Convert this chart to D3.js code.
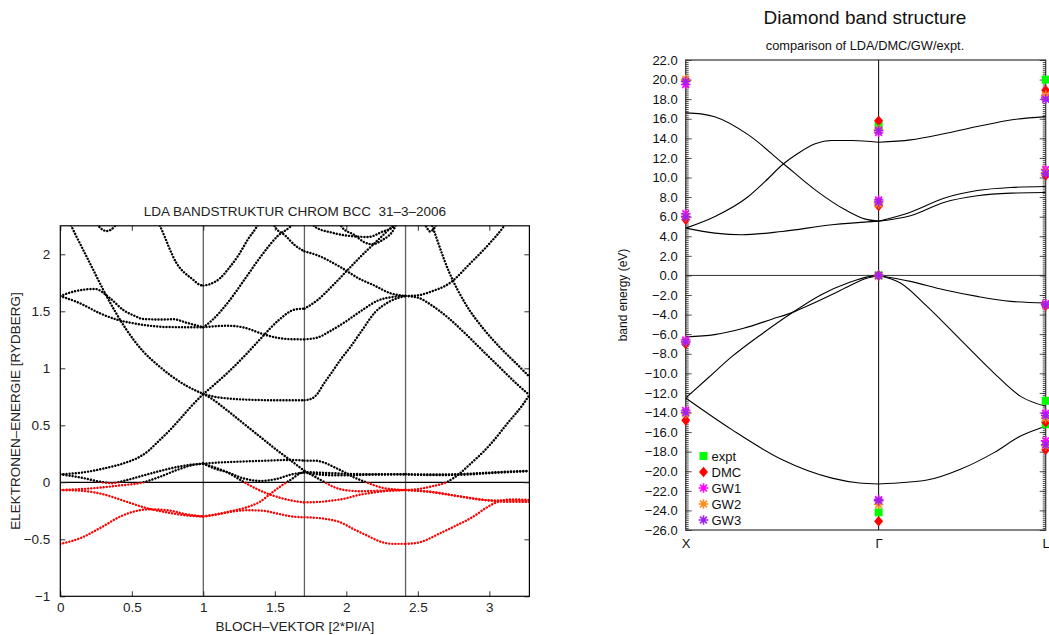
<!DOCTYPE html>
<html><head><meta charset="utf-8">
<script src="https://cdn.jsdelivr.net/npm/d3@7"></script>
<style>
body{margin:0;background:#fff;}
svg{display:block;font-family:"Liberation Sans",Arial,Helvetica,sans-serif;}
</style></head><body>
<svg id="c" width="1049" height="635"></svg>
<script>
// ---------------- LEFT PANEL DATA (Cr bcc, k in 2*PI/A, E in Ry) ----------------
const crSymK = [1, 1.7071, 2.4142];
const crKmax = 3.2802;
const crXTicks = [0, 0.5, 1, 1.5, 2, 2.5, 3];
const crYTicks = [-1, -0.5, 0, 0.5, 1, 1.5, 2];
// segment Gamma-H
const crGH = [
  [[0,-0.54],[0.14,-0.49],[0.28,-0.40],[0.42,-0.30],[0.52,-0.255],[0.62,-0.237],[0.75,-0.245],[0.88,-0.28],[1,-0.30]],
  [[0,-0.068],[0.15,-0.075],[0.3,-0.105],[0.45,-0.165],[0.6,-0.225],[0.75,-0.265],[0.9,-0.293],[1,-0.30]],
  [[0,-0.068],[0.2,-0.055],[0.4,-0.03],[0.58,0.0],[0.7,0.05],[0.82,0.11],[0.92,0.15],[1,0.164]],
  [[0,0.07],[0.15,0.04],[0.3,0.0],[0.36,-0.008],[0.45,0.015],[0.58,0.06],[0.7,0.1],[0.82,0.135],[0.92,0.155],[1,0.164]],
  [[0,0.07],[0.15,0.085],[0.3,0.12],[0.45,0.17],[0.557,0.225],[0.62,0.28],[0.674,0.345],[0.767,0.459],[0.837,0.555],[0.907,0.655],[1,0.775]],
  [[0,2.45],[0.08,2.24],[0.231,1.862],[0.301,1.687],[0.464,1.336],[0.581,1.146],[0.68,1.03],[0.78,0.93],[0.884,0.845],[1,0.775]],
  [[0,1.634],[0.1,1.675],[0.243,1.696],[0.348,1.614],[0.441,1.511],[0.52,1.46],[0.581,1.432],[0.7,1.428],[0.79,1.43],[0.883,1.40],[1,1.36]],
  [[0,1.634],[0.138,1.57],[0.278,1.482],[0.4,1.425],[0.511,1.395],[0.65,1.37],[0.744,1.362],[1,1.36]],
  [[0.66,2.35],[0.697,2.25],[0.814,1.92],[0.931,1.775],[0.97,1.735],[1,1.725]],
  [[0.22,2.36],[0.267,2.25],[0.324,2.204],[0.383,2.25],[0.43,2.36]]
];
// segment H-N
const crHN = [
  [[1,0.164],[1.15,0.176],[1.3,0.183],[1.45,0.19],[1.6,0.196],[1.7071,0.19]],
  [[1,0.164],[1.08,0.12],[1.164,0.09],[1.28,0.035],[1.397,0.012],[1.514,0.03],[1.62,0.07],[1.7071,0.085]],
  [[1,0.164],[1.08,0.13],[1.164,0.09],[1.28,0.005],[1.36,-0.05],[1.444,-0.097],[1.55,-0.14],[1.677,-0.172],[1.7071,-0.176]],
  [[1,-0.30],[1.1,-0.28],[1.187,-0.255],[1.3,-0.22],[1.397,-0.17],[1.47,-0.1],[1.537,-0.038],[1.62,0.03],[1.677,0.079],[1.7071,0.09]],
  [[1,-0.30],[1.1,-0.28],[1.2,-0.257],[1.32,-0.245],[1.42,-0.25],[1.52,-0.275],[1.62,-0.30],[1.7071,-0.307]],
  [[1,0.775],[1.05,0.74],[1.164,0.634],[1.28,0.517],[1.397,0.4],[1.514,0.283],[1.607,0.196],[1.7071,0.10]],
  [[1,0.775],[1.08,0.75],[1.175,0.735],[1.3,0.725],[1.5,0.72],[1.7071,0.72]],
  [[1,0.775],[1.08,0.86],[1.175,0.967],[1.292,1.113],[1.408,1.27],[1.525,1.42],[1.642,1.516],[1.7071,1.523]],
  [[1,1.36],[1.175,1.373],[1.292,1.355],[1.408,1.304],[1.525,1.266],[1.62,1.255],[1.7071,1.254]],
  [[1,1.36],[1.06,1.42],[1.175,1.582],[1.292,1.786],[1.408,1.991],[1.525,2.166],[1.606,2.24],[1.65,2.3]],
  [[1,1.725],[1.05,1.74],[1.117,1.79],[1.18,1.88],[1.245,1.99],[1.315,2.137],[1.373,2.24],[1.4,2.3]],
  [[1.48,2.3],[1.502,2.24],[1.572,2.166],[1.642,2.078],[1.7071,2.026]]
];
// segment N-Gamma
const crNG = [
  [[1.7071,0.19],[1.78,0.19],[1.84,0.175],[1.92,0.13],[1.98,0.093],[2.06,0.04],[2.14,0.0],[2.26,-0.05],[2.4142,-0.068]],
  [[1.7071,-0.176],[1.8,-0.173],[1.9,-0.16],[2.0,-0.14],[2.073,-0.115],[2.2,-0.088],[2.3,-0.074],[2.4142,-0.068]],
  [[1.7071,-0.307],[1.85,-0.32],[1.956,-0.35],[2.05,-0.41],[2.15,-0.47],[2.25,-0.525],[2.33,-0.54],[2.4142,-0.54]],
  [[1.7071,0.09],[1.8,0.085],[1.9,0.08],[2.0,0.075],[2.2,0.07],[2.4142,0.07]],
  [[1.7071,0.085],[1.8,0.07],[1.9,0.062],[2.0,0.062],[2.2,0.068],[2.4142,0.07]],
  [[1.7071,0.10],[1.78,0.05],[1.85,0.0],[1.92,-0.045],[2.0,-0.07],[2.1,-0.078],[2.25,-0.073],[2.4142,-0.068]],
  [[1.7071,0.72],[1.76,0.735],[1.8,0.78],[1.84,0.86],[1.91,0.985],[1.956,1.07],[2.03,1.19],[2.108,1.33],[2.2,1.49],[2.294,1.58],[2.4142,1.634]],
  [[1.7071,1.254],[1.8,1.27],[1.875,1.318],[1.991,1.406],[2.108,1.508],[2.224,1.596],[2.341,1.628],[2.4142,1.634]],
  [[1.7071,1.523],[1.8,1.6],[1.9,1.72],[2.0,1.85],[2.1,1.98],[2.2,2.1],[2.3,2.22],[2.35,2.28]],
  [[1.7071,2.026],[1.8,1.99],[1.956,1.89],[2.1,1.78],[2.19,1.73],[2.305,1.66],[2.4142,1.634]],
  [[1.75,2.3],[1.782,2.24],[1.9,2.19],[1.991,2.166],[2.154,2.152],[2.248,2.196],[2.341,2.254],[2.37,2.3]],
  [[1.95,2.3],[1.968,2.24],[2.061,2.166],[2.12,2.11],[2.178,2.088],[2.248,2.122],[2.341,2.24],[2.36,2.3]]
];
// segment Gamma-P
const crGP = [
  [[2.4142,0.07],[2.6,0.068],[2.8,0.072],[3.0,0.085],[3.15,0.095],[3.2802,0.1]],
  [[2.4142,0.07],[2.6,0.064],[2.8,0.066],[3.0,0.08],[3.2802,0.098]],
  [[2.4142,-0.068],[2.55,-0.08],[2.7,-0.105],[2.85,-0.135],[3.0,-0.16],[3.1,-0.17],[3.2802,-0.172]],
  [[2.4142,-0.068],[2.6,-0.085],[2.8,-0.125],[3.0,-0.158],[3.15,-0.16],[3.2802,-0.165]],
  [[2.4142,-0.54],[2.5,-0.53],[2.656,-0.447],[2.75,-0.39],[2.889,-0.30],[2.97,-0.23],[3.052,-0.175],[3.15,-0.15],[3.2802,-0.155]],
  [[2.4142,-0.068],[2.5,-0.06],[2.6,-0.035],[2.7,0.0],[2.8,0.085],[2.866,0.16],[2.96,0.27],[3.005,0.33],[3.122,0.51],[3.239,0.69],[3.2802,0.766]],
  [[2.4142,1.634],[2.5,1.62],[2.6,1.55],[2.715,1.44],[2.836,1.30],[2.957,1.15],[3.077,1.003],[3.198,0.856],[3.2802,0.766]],
  [[2.57,2.35],[2.6,2.25],[2.715,1.855],[2.836,1.56],[2.957,1.35],[3.077,1.18],[3.198,1.03],[3.2802,0.926]],
  [[2.4142,1.634],[2.5,1.64],[2.586,1.67],[2.726,1.75],[2.866,1.92],[3.005,2.1],[3.098,2.24],[3.13,2.3]],
  [[2.53,2.32],[2.56,2.24],[2.586,2.2],[2.62,2.24],[2.65,2.32]]
];

// ---------------- RIGHT PANEL DATA (diamond, eV) ----------------
const dmPoints = ["X", "\u0393", "L"];
const dmPointK = [0, 1, 1.866];
const dmYTicks = d3.range(-26, 22.001, 2);
// X -> Gamma (k from 0 to 1)
const dmXG = [
  [[0,16.6],[0.08,16.5],[0.15,16.2],[0.325,14.35],[0.507,11.4],[0.671,8.74],[0.827,6.7],[0.931,5.75],[1,5.54]],
  [[0,4.83],[0.152,6.02],[0.325,8.06],[0.412,9.6],[0.507,11.4],[0.585,12.5],[0.671,13.44],[0.758,13.78],[0.862,13.78],[1,13.6]],
  [[0,4.83],[0.152,4.32],[0.29,4.15],[0.5,4.49],[0.758,5.17],[1,5.54]],
  [[0,-6.29],[0.15,-6.05],[0.3,-5.4],[0.45,-4.45],[0.55,-3.8],[0.65,-2.95],[0.758,-1.95],[0.85,-1.05],[0.93,-0.35],[1,0]],
  [[0,-12.52],[0.12,-10.4],[0.239,-8.3],[0.4,-5.9],[0.55,-3.84],[0.7,-2.0],[0.85,-0.7],[0.95,-0.12],[1,0]],
  [[0,-12.52],[0.239,-15.75],[0.498,-18.8],[0.758,-20.7],[0.9,-21.2],[1,-21.3]]
];
// Gamma -> L (k from 1 to 1.866)
const dmGL = [
  [[1,13.6],[1.165,13.84],[1.338,14.46],[1.511,15.2],[1.684,15.88],[1.866,16.22]],
  [[1,5.54],[1.165,6.46],[1.338,7.89],[1.511,8.67],[1.684,8.98],[1.866,9.08]],
  [[1,5.54],[1.165,6.09],[1.338,7.45],[1.511,8.13],[1.684,8.4],[1.866,8.47]],
  [[1,0],[1.165,-0.61],[1.338,-1.46],[1.511,-2.14],[1.684,-2.65],[1.866,-2.82]],
  [[1,0],[1.113,-0.78],[1.251,-3.16],[1.424,-6.56],[1.598,-9.97],[1.736,-12.35],[1.866,-13.37]],
  [[1,-21.3],[1.251,-20.9],[1.424,-19.8],[1.598,-18.1],[1.736,-16.4],[1.866,-15.4]]
];
// comparison points: [symmetry point, energy]
const dmExpt = [["\u0393",15.3],["\u0393",0],["\u0393",-24.2],["L",20.0],["L",-12.8],["L",-15.2]];
const dmDMC  = [["X",19.9],["X",5.7],["X",-7.0],["X",-14.8],["\u0393",15.8],["\u0393",7.1],["\u0393",0],["\u0393",-25.1],["L",18.9],["L",10.2],["L",-3.1],["L",-15.0],["L",-17.8]];
const dmGW1  = [["X",19.5],["X",6.3],["X",-6.6],["X",-13.8],["\u0393",14.6],["\u0393",7.7],["\u0393",0],["\u0393",-22.9],["L",18.2],["L",10.8],["L",-2.9],["L",-14.1],["L",-16.9]];
const dmGW2  = [["X",20.0],["X",6.0],["X",-6.8],["X",-14.1],["\u0393",14.9],["\u0393",7.3],["\u0393",0],["\u0393",-23.4],["L",18.4],["L",10.5],["L",-3.0],["L",-14.6],["L",-17.4]];
const dmGW3  = [["X",19.8],["X",6.0],["X",-6.8],["X",-14.0],["\u0393",14.8],["\u0393",7.5],["\u0393",0],["\u0393",-23.0],["L",18.0],["L",10.4],["L",-3.0],["L",-14.3],["L",-17.3]];
const dmSeriesNames = ["expt","DMC","GW1","GW2","GW3"];
const dmSeriesColors = ["#00ff00","#ff0000","#ff00ff","#ff8c1a","#a020f0"];

// ======================= DRAW =======================
const svg = d3.select("#c");
const defs = svg.append("defs");
const FS = 13.5;

// ---------- left panel ----------
const LB = {x0:60.3, x1:529.4, y0:596.3, y1:225.8};
const xL = d3.scaleLinear().domain([0, crKmax]).range([LB.x0, LB.x1]);
const yL = d3.scaleLinear().domain([-1, 2.25]).range([LB.y0, LB.y1]);
const gL = svg.append("g");

defs.append("clipPath").attr("id","cAbove").append("rect")
  .attr("x",LB.x0).attr("y",LB.y1).attr("width",LB.x1-LB.x0).attr("height",yL(0)-LB.y1);
defs.append("clipPath").attr("id","cBelow").append("rect")
  .attr("x",LB.x0).attr("y",yL(0)).attr("width",LB.x1-LB.x0).attr("height",LB.y0-yL(0));

gL.selectAll("line.sym").data(crSymK).join("line").attr("class","sym")
  .attr("x1",d=>xL(d)).attr("x2",d=>xL(d)).attr("y1",LB.y1).attr("y2",LB.y0)
  .attr("stroke","#606060").attr("stroke-width",1.3);
gL.append("line").attr("x1",LB.x0).attr("x2",LB.x1).attr("y1",yL(0)).attr("y2",yL(0))
  .attr("stroke","#000").attr("stroke-width",1.2);

const lineL = d3.line().x(d=>xL(d[0])).y(d=>yL(d[1])).curve(d3.curveMonotoneX);
const crAll = [...crGH, ...crHN, ...crNG, ...crGP];
[["cAbove","#000"],["cBelow","#ff0000"]].forEach(([cid,col])=>{
  gL.append("g").attr("clip-path",`url(#${cid})`)
    .selectAll("path").data(crAll).join("path")
    .attr("d",lineL).attr("fill","none").attr("stroke",col)
    .attr("stroke-width",2.4).attr("stroke-linecap","round")
    .attr("stroke-dasharray","0.1 3");
});

const fmtL = d=> (d<0?"\u2212":"")+Math.abs(d);
const axL = gL.append("g").attr("transform",`translate(${LB.x0},0)`)
  .call(d3.axisLeft(yL).tickValues(crYTicks).tickSize(-5).tickPadding(10).tickFormat(fmtL));
const axR = gL.append("g").attr("transform",`translate(${LB.x1},0)`)
  .call(d3.axisRight(yL).tickValues(crYTicks).tickSize(-5).tickFormat(""));
const axB = gL.append("g").attr("transform",`translate(0,${LB.y0})`)
  .call(d3.axisBottom(xL).tickValues(crXTicks).tickSize(-5).tickPadding(6).tickFormat(d=>String(d)));
const axT = gL.append("g").attr("transform",`translate(0,${LB.y1})`)
  .call(d3.axisTop(xL).tickValues(crXTicks).tickSize(-5).tickFormat(""));
[axL,axR,axB,axT].forEach(a=>{
  a.select(".domain").remove();
  a.selectAll("text").attr("font-size",FS).attr("fill","#222").attr("font-family","Liberation Sans, Arial, sans-serif");
  a.selectAll("line").attr("stroke","#333");
});
gL.append("rect").attr("x",LB.x0).attr("y",LB.y1).attr("width",LB.x1-LB.x0).attr("height",LB.y0-LB.y1)
  .attr("fill","none").attr("stroke","#000").attr("stroke-width",1.2);

gL.append("text").attr("x",(LB.x0+LB.x1)/2).attr("y",216).attr("text-anchor","middle")
  .attr("font-size",13.5).attr("fill","#222").style("white-space","pre")
  .text("LDA BANDSTRUKTUR CHROM BCC  31\u20133\u20132006");
gL.append("text").attr("x",(LB.x0+LB.x1)/2).attr("y",630.5).attr("text-anchor","middle")
  .attr("font-size",FS).attr("fill","#222").text("BLOCH\u2013VEKTOR [2*PI/A]");
gL.append("text").attr("transform",`translate(20,${(LB.y0+LB.y1)/2}) rotate(-90)`)
  .attr("text-anchor","middle").attr("font-size",FS).attr("fill","#222")
  .text("ELEKTRONEN\u2013ENERGIE [RYDBERG]");

// ---------- right panel ----------
const RB = {x0:685.7, x1:1045.7, y0:530, y1:60};
const xR = d3.scaleLinear().domain([0, 1.866]).range([RB.x0, RB.x1]);
const yR = d3.scaleLinear().domain([-26, 22]).range([RB.y0, RB.y1]);
const kOf = p => dmPointK[dmPoints.indexOf(p)];
const gR = svg.append("g");

gR.append("line").attr("x1",xR(1)).attr("x2",xR(1)).attr("y1",RB.y1).attr("y2",RB.y0)
  .attr("stroke","#000").attr("stroke-width",1);
gR.append("line").attr("x1",RB.x0).attr("x2",RB.x1).attr("y1",yR(0)).attr("y2",yR(0))
  .attr("stroke","#333").attr("stroke-width",1);

const lineR = d3.line().x(d=>xR(d[0])).y(d=>yR(d[1])).curve(d3.curveMonotoneX);
gR.append("g").selectAll("path").data([...dmXG, ...dmGL]).join("path")
  .attr("d",lineR).attr("fill","none").attr("stroke","#000").attr("stroke-width",1.1);

const minor = d3.range(-26, 22.001, 0.2);
const rL = gR.append("g").attr("transform",`translate(${RB.x0},0)`)
  .call(d3.axisLeft(yR).tickValues(dmYTicks).tickSize(-6).tickPadding(8)
  .tickFormat(d=>(d<0?"\u2212":"")+Math.abs(d).toFixed(1)));
const rLm = gR.append("g").attr("transform",`translate(${RB.x0},0)`)
  .call(d3.axisLeft(yR).tickValues(minor).tickSize(-3).tickFormat(""));
const rR = gR.append("g").attr("transform",`translate(${RB.x1},0)`)
  .call(d3.axisRight(yR).tickValues(dmYTicks).tickSize(-6).tickFormat(""));
const rRm = gR.append("g").attr("transform",`translate(${RB.x1},0)`)
  .call(d3.axisRight(yR).tickValues(minor).tickSize(-3).tickFormat(""));
const rB = gR.append("g").attr("transform",`translate(0,${RB.y0})`)
  .call(d3.axisBottom(xR).tickValues(dmPointK).tickSize(0).tickPadding(9).tickFormat((d,i)=>dmPoints[i]));
[rL,rLm,rR,rRm,rB].forEach(a=>{
  a.select(".domain").remove();
  a.selectAll("text").attr("font-size",13).attr("fill","#111").attr("font-family","Liberation Sans, Arial, sans-serif");
  a.selectAll("line").attr("stroke","#222").attr("stroke-width",0.8);
});
gR.append("rect").attr("x",RB.x0).attr("y",RB.y1).attr("width",RB.x1-RB.x0).attr("height",RB.y0-RB.y1)
  .attr("fill","none").attr("stroke","#333").attr("stroke-width",1.2);

gR.append("text").attr("x",865).attr("y",24).attr("text-anchor","middle")
  .attr("font-size",19).attr("fill","#111").text("Diamond band structure");
gR.append("text").attr("x",865).attr("y",49.5).attr("text-anchor","middle")
  .attr("font-size",12.8).attr("fill","#111").text("comparison of LDA/DMC/GW/expt.");
gR.append("text").attr("transform",`translate(627,295) rotate(-90)`)
  .attr("text-anchor","middle").attr("font-size",12).attr("fill","#111").text("band energy (eV)");

const symSquare = "M-4,-4H4V4H-4Z";
const symDiamond = "M0,-5.3L4.5,0L0,5.3L-4.5,0Z";
const symStar = "M-4.8,0H4.8M0,-4.8V4.8M-3.4,-3.4L3.4,3.4M-3.4,3.4L3.4,-3.4";
function drawMarker(g, kind, color, x, y){
  if(kind===0) g.append("path").attr("d",symSquare).attr("fill",color).attr("transform",`translate(${x},${y})`);
  else if(kind===1) g.append("path").attr("d",symDiamond).attr("fill",color).attr("transform",`translate(${x},${y})`);
  else g.append("path").attr("d",symStar).attr("fill","none").attr("stroke",color).attr("stroke-width",1.6).attr("transform",`translate(${x},${y})`);
}
const dmSets = [dmExpt, dmDMC, dmGW1, dmGW2, dmGW3];
const gM = gR.append("g");
dmSets.forEach((set,si)=>{
  set.forEach(([p,e])=>drawMarker(gM, si, dmSeriesColors[si], xR(kOf(p)), yR(e)));
});
const gLeg = gR.append("g");
dmSeriesNames.forEach((n,i)=>{
  const yy = 456 + i*16;
  drawMarker(gLeg, i, dmSeriesColors[i], 703.5, yy);
  gLeg.append("text").attr("x",711.5).attr("y",yy+4.5).attr("font-size",13).attr("fill","#111").text(n);
});
</script></body></html>
